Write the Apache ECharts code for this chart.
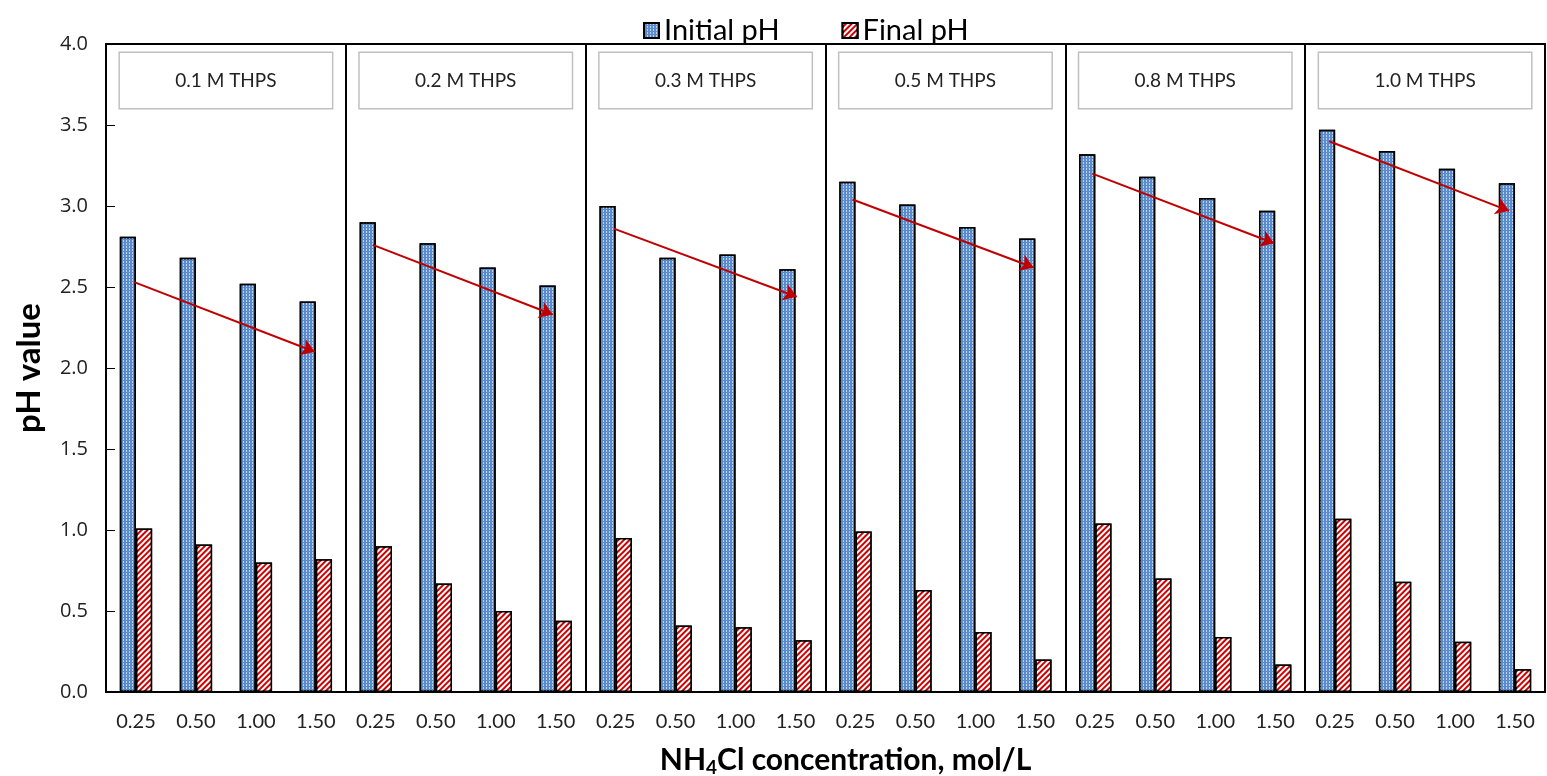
<!DOCTYPE html>
<html><head><meta charset="utf-8">
<script src="https://cdn.jsdelivr.net/npm/echarts@6/dist/echarts.min.js"></script>
<style>html,body{margin:0;padding:0;background:#fff;overflow:hidden}#c{width:1547px;height:776px}</style>
</head><body><div id="c"></div>
<script>
const concLabels = ['0.25','0.50','1.00','1.50'];
const panels = ['0.1 M THPS','0.2 M THPS','0.3 M THPS','0.5 M THPS','0.8 M THPS','1.0 M THPS'];
const initialPH = [2.81,2.68,2.52,2.41, 2.90,2.77,2.62,2.51, 3.00,2.68,2.70,2.61, 3.15,3.01,2.87,2.80, 3.32,3.18,3.05,2.97, 3.47,3.34,3.23,3.14];
const finalPH   = [1.01,0.91,0.80,0.82, 0.90,0.67,0.50,0.44, 0.95,0.41,0.40,0.32, 0.99,0.63,0.37,0.20, 1.04,0.70,0.34,0.17, 1.07,0.68,0.31,0.14];
// trend arrows: [startX, startY, endX, endY] in (category position, pH)
const arrows = [
  [0.47,2.53,3.48,2.10],
  [4.45,2.76,7.45,2.33],
  [8.47,2.86,11.52,2.44],
  [12.45,3.04,15.47,2.62],
  [16.45,3.20,19.48,2.77],
  [20.40,3.40,23.40,2.97]
];
const yTicks = {min:0, max:4, interval:0.5};

const categories = [];
panels.forEach(()=>concLabels.forEach(c=>categories.push(c)));

const chart = echarts.init(document.getElementById('c'));
const font = 'Lato, "Open Sans", sans-serif';
chart.setOption({
  animation:false,
  legend:{
    left:638, top:11, itemWidth:15, itemHeight:15, itemGap:62, icon:'rect',
    textStyle:{fontSize:29, fontFamily:font, color:'#000'},
    data:['Initial pH','Final pH']
  },
  grid:{left:106, right:2, top:44, bottom:84, containLabel:false, outerBoundsMode:'none',
        show:true, borderColor:'#000', borderWidth:2, backgroundColor:'transparent'},
  xAxis:[
    {type:'category', data:categories, position:'bottom',
     axisLine:{lineStyle:{color:'#000', width:2}}, axisTick:{show:false},
     axisLabel:{fontSize:20, fontFamily:font, color:'#222', margin:20, interval:0},
     name:'{a|NH}{s|4}{a|Cl concentration, mol/L}', nameLocation:'middle', nameGap:52,
     nameTextStyle:{padding:[0,0,0,40],
                    rich:{a:{fontSize:30, fontWeight:'bold', fontFamily:font, color:'#000'},
                          s:{fontSize:19, fontWeight:'bold', fontFamily:font, color:'#000', verticalAlign:'bottom', padding:[14,0,0,0]}}}
    },
    {type:'category', data:panels, position:'top', boundaryGap:true,
     axisLine:{show:false}, axisTick:{show:false},
     splitLine:{show:true, interval:0, lineStyle:{color:'#000', width:2}},
     axisLabel:{inside:true, margin:9, interval:0, width:212, height:55, lineHeight:55, align:'center',
       backgroundColor:'#fff', borderColor:'#c0c0c0', borderWidth:1.5,
       fontSize:19, fontFamily:font, color:'#222'}
    },
    {type:'value', min:0, max:24, show:false}
  ],
  yAxis:{type:'value', min:yTicks.min, max:yTicks.max, interval:yTicks.interval,
    axisLine:{show:true, lineStyle:{color:'#000', width:2}},
    axisTick:{show:true, inside:true, length:9, lineStyle:{color:'#000', width:1}},
    splitLine:{show:false},
    axisLabel:{fontSize:20, fontFamily:'"Open Sans", sans-serif', color:'#222', margin:18, formatter:v=>v.toFixed(1)},
    name:'pH value', nameLocation:'middle', nameGap:60, nameRotate:90,
    nameTextStyle:{fontSize:33, fontWeight:'bold', fontFamily:font, color:'#000'}
  },
  series:[
    {name:'Initial pH', type:'bar', xAxisIndex:0, data:initialPH, barGap:'0%', barCategoryGap:'46%',
     itemStyle:{color:'#5a8ccd', borderColor:'#000', borderWidth:1.5,
       decal:{symbol:'rect', symbolSize:1, color:'rgba(255,255,255,0.6)', dashArrayX:[1,2], dashArrayY:[2,1]}}},
    {name:'Final pH', type:'bar', xAxisIndex:0, data:finalPH,
     itemStyle:{color:'#d00000', borderColor:'#000', borderWidth:1.5,
       decal:{symbol:'rect', symbolSize:1, color:'#ffffff', dashArrayX:[1,0], dashArrayY:[2,2], rotation:-Math.PI/4}}},
    {name:'trend', type:'lines', coordinateSystem:'cartesian2d', xAxisIndex:2, yAxisIndex:0,
     symbol:['none','arrow'], symbolSize:13,
     lineStyle:{color:'#c00000', width:2, opacity:1},
     data:arrows.map(a=>({coords:[[a[0],a[1]],[a[2],a[3]]]})), z:5}
  ]
});
</script></body></html>
